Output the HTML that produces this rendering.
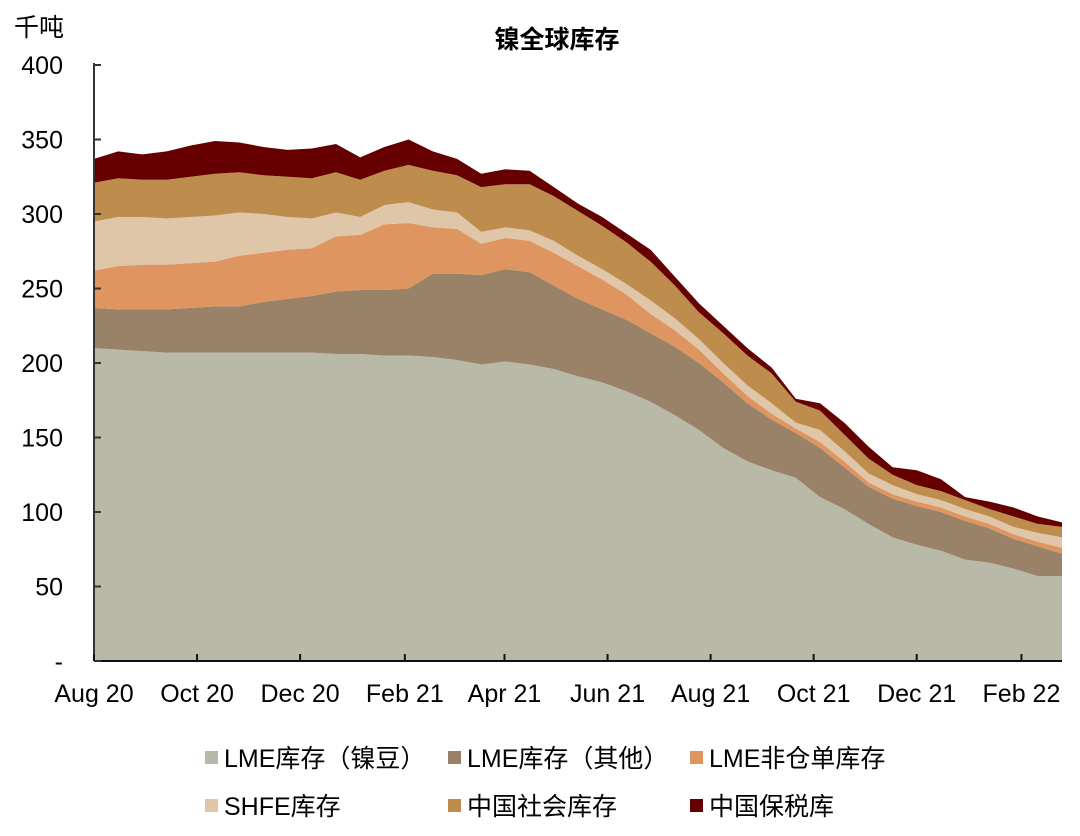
<!DOCTYPE html>
<html><head><meta charset="utf-8">
<style>
body{margin:0;background:#fff;}
svg text{font-family:"Liberation Sans","Noto Sans CJK SC",sans-serif;fill:#000;}
</style></head>
<body>
<svg id="chart" width="1080" height="831" viewBox="0 0 1080 831" xmlns="http://www.w3.org/2000/svg">
<text x="14" y="36" font-size="25">千吨</text>
<text x="557" y="48" font-size="25" text-anchor="middle" font-weight="bold">镍全球库存</text>
<g id="areas"></g>
<g id="axes"></g>
<g id="legend"></g>
</svg>
<script>
const seriesNames = ["LME库存（镍豆）","LME库存（其他）","LME非仓单库存","SHFE库存","中国社会库存","中国保税库"];
const seriesColors = ["#b9b9a7","#9a8268","#de955f","#dfc6a8","#be8d4d","#660000"];
const lmeBean = [210,209,208,207,207,207,207,207,207,207,206,206,205,205,204,202,199,201,199,196,191,187,181,174,165,155,143,134,128,123,110,102,92,83,78,74,68,66,62,57,57];
const lmeOther = [27,27,28,29,30,31,31,34,36,38,42,43,44,45,56,58,60,62,62,56,52,49,48,46,46,45,44,39,34,30,33,28,25,26,26,26,26,23,20,20,15];
const lmeNonWarrant = [25,29,30,30,30,30,34,33,33,32,37,37,44,44,31,30,21,21,21,22,22,20,17,13,11,9,6,5,4,3,4,4,3,3,3,3,3,3,3,3,4];
const shfe = [33,33,32,31,31,31,29,26,22,20,16,12,13,14,12,11,8,7,7,8,7,7,7,9,8,7,7,7,7,4,8,7,6,6,5,5,5,5,5,6,7];
const chinaSocial = [26,26,25,26,27,28,27,26,27,27,27,25,23,25,26,25,30,29,31,30,30,29,28,26,22,18,20,20,20,14,13,11,10,7,6,6,6,5,7,6,7];
const bonded = [16,18,17,19,21,22,20,19,18,20,19,15,16,17,13,11,9,10,9,6,5,6,6,8,6,6,5,5,4,2,5,8,8,5,10,8,2,5,6,5,3];
const yTicks = [0,50,100,150,200,250,300,350,400];
const yTickLabels = ["-","50","100","150","200","250","300","350","400"];
const xTickLabels = ["Aug 20","Oct 20","Dec 20","Feb 21","Apr 21","Jun 21","Aug 21","Oct 21","Dec 21","Feb 22"];
const xTickDates = [[2020,7],[2020,9],[2020,11],[2021,1],[2021,3],[2021,5],[2021,7],[2021,9],[2021,11],[2022,1]];

const NS="http://www.w3.org/2000/svg";
const X0=94,X1=1062,Y0=661,Y1=65;
const d0=new Date(2020,7,1).getTime(), d1=new Date(2022,1,25).getTime();
const n=lmeBean.length;
const dates=[];for(let i=0;i<n;i++)dates.push(d0+(d1-d0)*i/(n-1));
function xScale(t){return X0+(t-d0)/(d1-d0)*(X1-X0);}
function yScale(v){return Y0-(v/400)*(Y0-Y1);}
function mk(tag,attrs,parent){const e=document.createElementNS(NS,tag);for(const k in attrs)e.setAttribute(k,attrs[k]);parent.appendChild(e);return e;}

const all=[lmeBean,lmeOther,lmeNonWarrant,shfe,chinaSocial,bonded];
const areas=document.getElementById('areas');
let base=new Array(n).fill(0);
all.forEach((s,si)=>{
  const top=base.map((b,i)=>b+s[i]);
  let d="M"+xScale(dates[0])+","+yScale(top[0]);
  for(let i=1;i<n;i++)d+=" L"+xScale(dates[i])+","+yScale(top[i]);
  for(let i=n-1;i>=0;i--)d+=" L"+xScale(dates[i])+","+yScale(base[i]);
  d+=" Z";
  const p=mk('path',{d:d,fill:seriesColors[si]},areas);
  
  
  base=top;
});

const axes=document.getElementById('axes');
const ya=mk('line',{x1:X0,y1:Y1-2,x2:X0,y2:Y0,stroke:'#333','stroke-width':2},axes);


const xa=mk('line',{x1:X0,y1:Y0,x2:X1,y2:Y0,stroke:'#111','stroke-width':2},axes);


yTicks.forEach((v,i)=>{
  const y=yScale(v);
  mk('line',{x1:X0,y1:y,x2:X0+7,y2:y,stroke:'#333','stroke-width':2},axes);
  const t=mk('text',{x:63,y:y+9,'font-size':25,'text-anchor':'end'},axes);
  t.textContent=yTickLabels[i];
  
  
});
xTickDates.forEach((dd,i)=>{
  const x=xScale(new Date(dd[0],dd[1],1).getTime());
  mk('line',{x1:x,y1:Y0,x2:x,y2:Y0-7,stroke:'#111','stroke-width':2},axes);
  const t=mk('text',{x:x,y:702,'font-size':25,'text-anchor':'middle'},axes);
  t.textContent=xTickLabels[i];
  
  
});

const legend=document.getElementById('legend');
const lpos=[[205,767],[448,767],[690,767],[205,815],[448,815],[690,815]];
seriesNames.forEach((nm,i)=>{
  const g=mk('g',{},legend);
  
  
  mk('rect',{x:lpos[i][0],y:lpos[i][1]-16,width:13,height:13,fill:seriesColors[i]},g);
  const t=mk('text',{x:lpos[i][0]+19,y:lpos[i][1],'font-size':25},g);
  t.textContent=nm;
});
</script>
</body></html>
